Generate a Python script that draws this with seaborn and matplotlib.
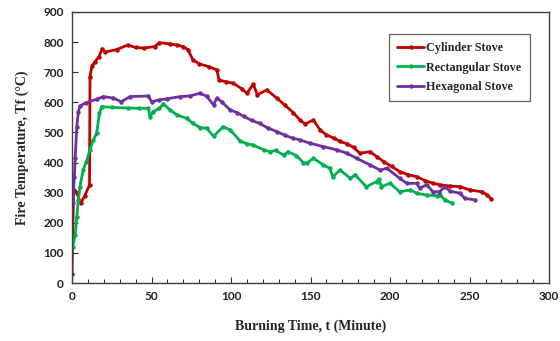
import matplotlib
matplotlib.use("Agg")
import matplotlib.pyplot as plt
import seaborn as sns
import pandas as pd
from matplotlib.ticker import MultipleLocator

# ---- data ----
cyl_t = [0, 1, 3, 5.5, 8, 11, 11.3, 12.5, 14.5, 17, 19, 21, 28, 35, 40, 45, 52, 55, 61.5, 66,
         70, 73, 76, 80, 86, 91, 92.5, 97, 101.5, 106.7, 110, 114, 116.5, 122.5, 128.7, 134, 139,
         143.4, 146.5, 151.8, 156, 160, 165, 168.5, 172.7, 177, 181, 187.4, 192, 196, 201, 206,
         211, 216.8, 222, 227, 231.4, 237.7, 244, 250, 257.7, 261, 263.5]
cyl_T = [30, 310, 300, 265, 290, 325, 685, 720, 735, 752, 778, 767, 775, 790, 782, 780, 785, 798,
         794, 790, 785, 774, 741, 728, 718, 708, 674, 668, 663, 645, 630, 660, 625, 641, 614, 590,
         566, 541, 528, 541, 508, 492, 480, 470, 463, 450, 431, 436, 418, 403, 387, 370, 360, 353,
         340, 331, 326, 322, 320, 309, 303, 292, 280]

rect_t = [0.4, 2, 3, 4, 5, 7, 9, 11.3, 13.4, 15.5, 17.2, 18.7, 25, 35, 42, 48, 49, 51, 55, 57.4,
          61.6, 66, 72, 76, 80.5, 84.7, 89, 95, 99.6, 105.6, 110, 114, 120.6, 124.5, 128, 133, 136,
          141, 145.5, 147.6, 151.8, 158, 162, 164, 168.5, 175, 178, 185, 191.6, 193, 194.5, 200,
          206, 212.6, 216.8, 223, 229.4, 231.4, 234.5, 238.8]
rect_T = [120, 160, 220, 276, 320, 375, 403, 442, 475, 497, 564, 586, 583, 581, 580, 580, 552, 569,
          580, 595, 575, 558, 547, 530, 516, 514, 487, 519, 508, 472, 462, 458, 442, 436, 440, 425,
          436, 423, 400, 398, 414, 392, 381, 353, 375, 348, 359, 320, 337, 345, 320, 331, 303, 309,
          298, 292, 290, 292, 276, 265]

hex_t = [0.4, 1.5, 2, 3, 4, 5, 9, 15.5, 19.7, 26, 31, 36.5, 48, 50, 55, 60, 68, 74, 80.5, 84.7, 89,
         91, 94, 99.4, 104, 108, 113, 118, 123, 128.7, 134, 139, 143.4, 149.7, 158, 166.5, 172.8,
         179, 187.4, 193.7, 198, 206, 210.5, 216.8, 218.5, 223, 227, 231, 234.6, 237.7, 244, 247,
         253.5]
hex_T = [265, 353, 414, 519, 569, 588, 599, 610, 619, 614, 602, 619, 621, 602, 608, 612, 619, 621,
         630, 620, 591, 614, 602, 575, 565, 553, 540, 530, 515, 503, 490, 481, 475, 464, 453, 442,
         431, 414, 392, 375, 381, 348, 331, 331, 315, 326, 303, 303, 320, 305, 298, 281, 276]

names = ["Cylinder Stove", "Rectangular Stove", "Hexagonal Stove"]
colors = ["#C00000", "#00B050", "#7030A0"]

df = pd.concat([
    pd.DataFrame({"t": cyl_t, "T": cyl_T, "stove": names[0]}),
    pd.DataFrame({"t": rect_t, "T": rect_T, "stove": names[1]}),
    pd.DataFrame({"t": hex_t, "T": hex_T, "stove": names[2]}),
], ignore_index=True)

sns.set_style("white")
plt.rcParams["font.family"] = ["Liberation Serif", "DejaVu Serif"]

fig = plt.figure(figsize=(5.6, 3.41), dpi=100)
ax = fig.add_axes([0.1286, 0.170, 0.852, 0.795])

sns.lineplot(data=df, x="t", y="T", hue="stove", style="stove", hue_order=names,
             palette=colors, markers=["o", "o", "o"], dashes=False, sort=False,
             estimator=None, linewidth=2.0, markersize=3.2, markeredgewidth=0, ax=ax)

ax.set_xlim(0, 300)
ax.set_ylim(0, 900)
ax.xaxis.set_major_locator(MultipleLocator(50))
ax.xaxis.set_minor_locator(MultipleLocator(10))
ax.yaxis.set_major_locator(MultipleLocator(100))
ax.tick_params(axis="both", which="both", direction="in", length=4, width=0.8,
               color="#303030", labelsize=8.5, pad=6)
ax.tick_params(axis="x", which="minor", length=3, bottom=True)
ax.tick_params(axis="x", which="major", bottom=True)
ax.tick_params(axis="y", which="major", left=True)
for lab in ax.get_xticklabels() + ax.get_yticklabels():
    lab.set_fontfamily("Lato")
    lab.set_fontweight("bold")
    lab.set_color("#222222")

for s in ax.spines.values():
    s.set_color("#404040")
    s.set_linewidth(1.0)

ax.set_xlabel("Burning Time, t (Minute)", fontsize=10, fontweight="bold", labelpad=12)
ax.set_ylabel("Fire Temperature, Tf (\u00b0C)", fontsize=10, fontweight="bold", labelpad=10)

leg = ax.legend(loc="upper right", bbox_to_anchor=(0.960, 0.919), frameon=True, fancybox=False,
                edgecolor="#404040", prop={"family": "Liberation Serif", "weight": "bold", "size": 8.7},
                handlelength=2.2, borderpad=0.7, labelspacing=0.6, handletextpad=0.2,
                borderaxespad=0)
leg.get_frame().set_linewidth(0.9)
for h in leg.legend_handles:
    h.set_linewidth(2.0)

fig.savefig("out.png", dpi=100)
